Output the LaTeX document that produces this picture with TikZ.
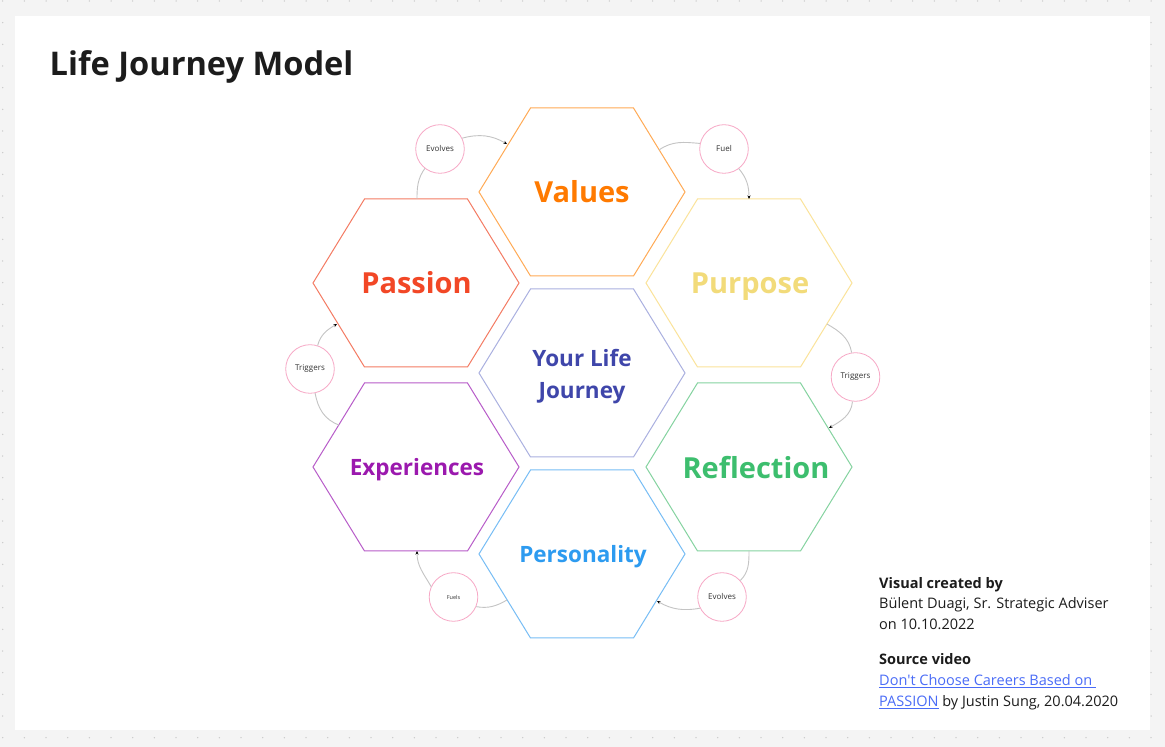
\documentclass[tikz,border=0pt]{standalone}
\usepackage{fontspec}
\setmainfont{Open Sans}[Ligatures=TeXOff]
\usetikzlibrary{arrows.meta}
\definecolor{bgc}{HTML}{F4F4F4}
\definecolor{dotc}{HTML}{C9C9C9}
\definecolor{valT}{HTML}{FF7A00}\definecolor{valS}{HTML}{FFAA55}
\definecolor{pasT}{HTML}{F24726}\definecolor{pasS}{HTML}{F47B63}
\definecolor{purT}{HTML}{F2DB7A}\definecolor{purS}{HTML}{FBE39A}
\definecolor{yljT}{HTML}{3F46AA}\definecolor{yljS}{HTML}{AAB0E0}
\definecolor{expT}{HTML}{9B19AE}\definecolor{expS}{HTML}{B85CC9}
\definecolor{refT}{HTML}{3DBE6E}\definecolor{refS}{HTML}{85D3A0}
\definecolor{perT}{HTML}{2D9BF0}\definecolor{perS}{HTML}{77BDF5}
\definecolor{pinkc}{HTML}{F7A8C6}
\definecolor{labc}{HTML}{333333}
\definecolor{connc}{HTML}{C4C4C4}
\definecolor{inkc}{HTML}{1C1C1C}
\definecolor{linkc}{HTML}{4A6CF7}
\begin{document}
\begin{tikzpicture}[x=1pt,y=1pt,
  hexline/.style={draw=#1, line width=1pt, line join=miter},
  bigword/.style={anchor=base, font=\bfseries\fontsize{29}{34}\selectfont},
  midword/.style={anchor=base, font=\bfseries\fontsize{22.5}{32.3}\selectfont},
  circ/.style={circle, draw=pinkc, line width=0.8pt, minimum size=48.6pt, inner sep=0pt, fill=white,
    font=\fontsize{8}{9}\selectfont, text=labc},
  conn/.style={draw=connc, line width=0.9pt},
  tipped/.style={-{Stealth[length=3.5pt,width=3pt,black]}},
  body/.style={anchor=base west, font=\fontsize{14.5}{20.7}\selectfont, text=inkc, inner sep=0pt}
]
\useasboundingbox (0,0) rectangle (1165,747);
\fill[bgc] (0,0) rectangle (1165,747);
\foreach \i in {0,...,53}{\foreach \j in {0,...,34}{\fill[dotc] ({2.7+21.667*\i},{746-21.667*\j}) circle (0.75);}}
\fill[white] (15,17) rectangle (1150,731);

% title
\node[anchor=base west, inner sep=0pt, font=\bfseries\fontsize{32.6}{38}\selectfont, text=inkc] (title) at (49.5,671) {Life Journey Model};

% hexagon centres
\coordinate (valC) at (582,555);
\coordinate (pasC) at (416,464);
\coordinate (purC) at (749,464);
\coordinate (yljC) at (582,374);
\coordinate (expC) at (416,280);
\coordinate (refC) at (749,280);
\coordinate (perC) at (582,193);

\foreach \c/\s in {valC/valS,pasC/pasS,purC/purS,yljC/yljS,expC/expS,refC/refS,perC/perS}{
  \draw[hexline=\s] (\c) ++(-103,0) -- ++(51.5,84) -- ++(103,0) -- ++(51.5,-84) -- ++(-51.5,-84) -- ++(-103,0) -- cycle;
}

% hexagon texts
\node[bigword, text=valT] (val) at (582,544.3) {Values};
\node[bigword, text=pasT] (pas) at (416.5,453) {Passion};
\node[bigword, text=purT] (pur) at (750,453.7) {Purpose};
\node[bigword, text=refT] (ref) at (756,268.7) {Reflection};
\node[midword, text=expT] (exp) at (417,271) {Experiences};
\node[midword, text=perT] (per) at (583,184.3) {Personality};
\node[midword, anchor=center, align=center, text=yljT] (ylj) at (582,370.7) {Your Life\\Journey};

% connector end points on hexagon borders
\coordinate (p1) at (417,548);
\coordinate (v1) at (507,603);
\coordinate (v2) at (659,597);
\coordinate (pu1) at (749,548);
\coordinate (pu2) at (827,423);
\coordinate (r1) at (829,319);
\coordinate (r2) at (749,196);
\coordinate (pe1) at (657,146);
\coordinate (pe2) at (507,147);
\coordinate (e1) at (417,196);
\coordinate (e2) at (339,322);
\coordinate (p2) at (337,423);

% circles
\node[circ] (c1) at (440,598) {Evolves};
\node[circ] (c2) at (724,598) {Fuel};
\node[circ] (c3) at (310,378) {Triggers};
\node[circ] (c4) at (855.5,370) {Triggers};
\node[circ, font=\fontsize{5.5}{6}\selectfont] (c5) at (453.5,150) {Fuels};
\node[circ] (c6) at (722,150) {Evolves};

% connectors
\draw[conn] (p1) to[out=90,in=235] (c1.232);
\draw[conn,tipped] (c1.26) to[out=15,in=150] (v1);
\draw[conn] (v2) to[out=35,in=175] (c2.167);
\draw[conn,tipped] (c2.-53) to[out=-50,in=90] (pu1);
\draw[conn] (pu2) to[out=-30,in=100] (c4.99);
\draw[conn,tipped] (c4.263) to[out=-95,in=30] (r1);
\draw[conn] (r2) to[out=-90,in=45] (c6.42);
\draw[conn,tipped] (c6.207) to[out=190,in=-30] (pe1);
\draw[conn] (pe2) to[out=210,in=-10] (c5.-23);
\draw[conn,tipped] (c5.155) to[out=120,in=-90] (e1);
\draw[conn] (e2) to[out=160,in=-80] (c3.-78);
\draw[conn,tipped] (c3.72) to[out=75,in=210] (p2);

% credits
\node[body, font=\bfseries\fontsize{14.5}{20.7}\selectfont] (t1) at (879,158.7) {Visual created by};
\node[body] (t2) at (879,138) {Bülent Duagi, Sr. Strategic Adviser};
\node[body] (t3) at (879,117.3) {on 10.10.2022};
\node[body, font=\bfseries\fontsize{14.5}{20.7}\selectfont] (t4) at (879,82) {Source video};
\node[body, text=linkc] (t5) at (879,61.3) {\underline{Don't Choose Careers Based on\ }};
\node[body] (t6) at (879,40.6) {\textcolor{linkc}{\underline{PASSION}} by Justin Sung, 20.04.2020};
\end{tikzpicture}
\end{document}
